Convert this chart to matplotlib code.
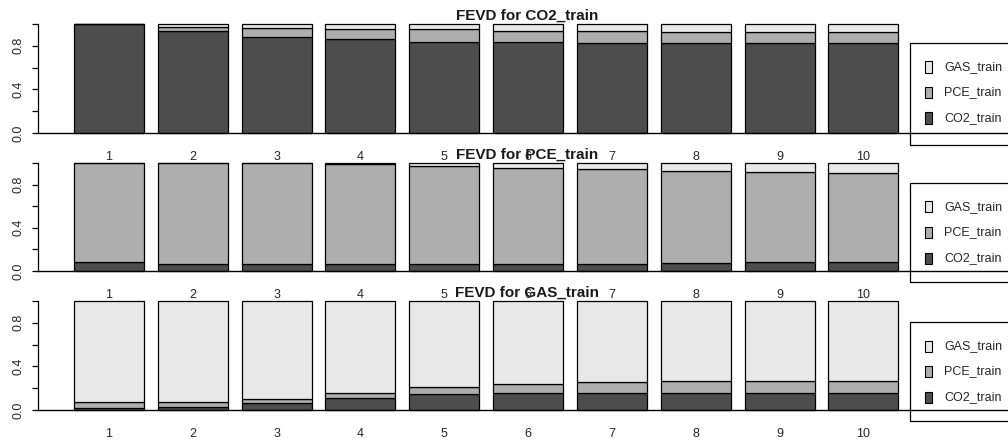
import numpy as np
import matplotlib
matplotlib.use("Agg")
import matplotlib.pyplot as plt
import matplotlib.transforms as mtransforms
from matplotlib.patches import Rectangle

plt.rcParams['font.family'] = ['Liberation Sans', 'DejaVu Sans']

# forecast horizons and series names
horizons = list(range(1, 11))
series = ["CO2_train", "PCE_train", "GAS_train"]
colors = ["#4D4D4D", "#AEAEAE", "#E8E8E8"]

# FEVD shares per response variable (rows: CO2, PCE, GAS contributions)
fevd_co2 = {
    "CO2_train": [1.000, 0.940, 0.883, 0.862, 0.838, 0.838, 0.830, 0.830, 0.830, 0.830],
    "PCE_train": [0.000, 0.030, 0.077, 0.092, 0.112, 0.098, 0.106, 0.100, 0.100, 0.094],
    "GAS_train": [0.000, 0.030, 0.040, 0.046, 0.050, 0.064, 0.064, 0.070, 0.070, 0.076],
}
fevd_pce = {
    "CO2_train": [0.080, 0.065, 0.065, 0.065, 0.065, 0.065, 0.065, 0.070, 0.080, 0.080],
    "PCE_train": [0.920, 0.935, 0.935, 0.930, 0.910, 0.885, 0.875, 0.859, 0.840, 0.827],
    "GAS_train": [0.000, 0.000, 0.000, 0.005, 0.025, 0.050, 0.060, 0.071, 0.080, 0.093],
}
fevd_gas = {
    "CO2_train": [0.015, 0.030, 0.061, 0.107, 0.144, 0.153, 0.153, 0.153, 0.153, 0.153],
    "PCE_train": [0.061, 0.046, 0.039, 0.046, 0.064, 0.086, 0.101, 0.116, 0.116, 0.116],
    "GAS_train": [0.924, 0.924, 0.900, 0.847, 0.792, 0.761, 0.746, 0.731, 0.731, 0.731],
}
panels = [("CO2_train", fevd_co2), ("PCE_train", fevd_pce), ("GAS_train", fevd_gas)]

W, H = 1008, 442
fig = plt.figure(figsize=(W / 100, H / 100), dpi=100)

# pixel rows of each panel: (baseline, top of 1.0), plus legend box rows
rows = [(133, 24), (271, 163), (410, 301)]
leg_rows = [(43, 145), (183, 282), (322, 421)]
ax_left, ax_right = 38, 1016
txt = "#262626"

for (name, data), (y0, y1), (lt, lb) in zip(panels, rows, leg_rows):
    ax = fig.add_axes([ax_left / W, (H - y0) / H, (ax_right - ax_left) / W, (y0 - y1) / H])
    ax.set_ylim(0, 1)
    ax.set_xlim(0.153, 11.82)
    ax.patch.set_alpha(0)

    bottom = np.zeros(len(horizons))
    for s, c in zip(series, colors):
        vals = np.array(data[s])
        ax.bar(horizons, vals, width=0.835, bottom=bottom, color=c,
               edgecolor="black", linewidth=0.9, clip_on=False)
        bottom += vals
    ax.axhline(0, color="black", linewidth=1.0, clip_on=False)

    for sp in ["top", "right", "bottom"]:
        ax.spines[sp].set_visible(False)
    ax.spines["left"].set_bounds(0, 1)
    ax.spines["left"].set_linewidth(0.9)

    ax.set_yticks([0, 0.2, 0.4, 0.6, 0.8, 1.0])
    ax.set_yticklabels(["0.0", "", "0.4", "", "0.8", ""], rotation=90, va="center",
                       fontsize=9, color=txt)
    ax.tick_params(axis="y", length=4, width=0.9, pad=6)
    ax.set_xticks(horizons)
    ax.set_xticklabels([str(h) for h in horizons], fontsize=9, color=txt)
    ax.tick_params(axis="x", length=0, pad=13)

    title_tr = mtransforms.blended_transform_factory(ax.transAxes, ax.transData)
    ax.text(0.5, 1.0 + 4 / (y0 - y1), f"FEVD for {name}", transform=title_tr,
            ha="center", va="baseline", fontsize=11, fontweight="bold", color="#1a1a1a")

    # legend box on the right, drawn in figure pixels
    fig.patches.append(Rectangle((910 / W, (H - lb) / H), 120 / W, (lb - lt) / H,
                                 transform=fig.transFigure, fill=False,
                                 edgecolor="black", linewidth=0.9))
    for k, (s, c) in enumerate(zip(series[::-1], colors[::-1])):
        yc = lt + 24 + k * 25.5
        fig.patches.append(Rectangle((925 / W, (H - yc - 5.5) / H), 7 / W, 11 / H,
                                     transform=fig.transFigure, facecolor=c,
                                     edgecolor="black", linewidth=0.8))
        fig.text(944 / W, (H - yc) / H, s, ha="left", va="center", fontsize=9, color=txt)

fig.savefig("out.png", dpi=100)
